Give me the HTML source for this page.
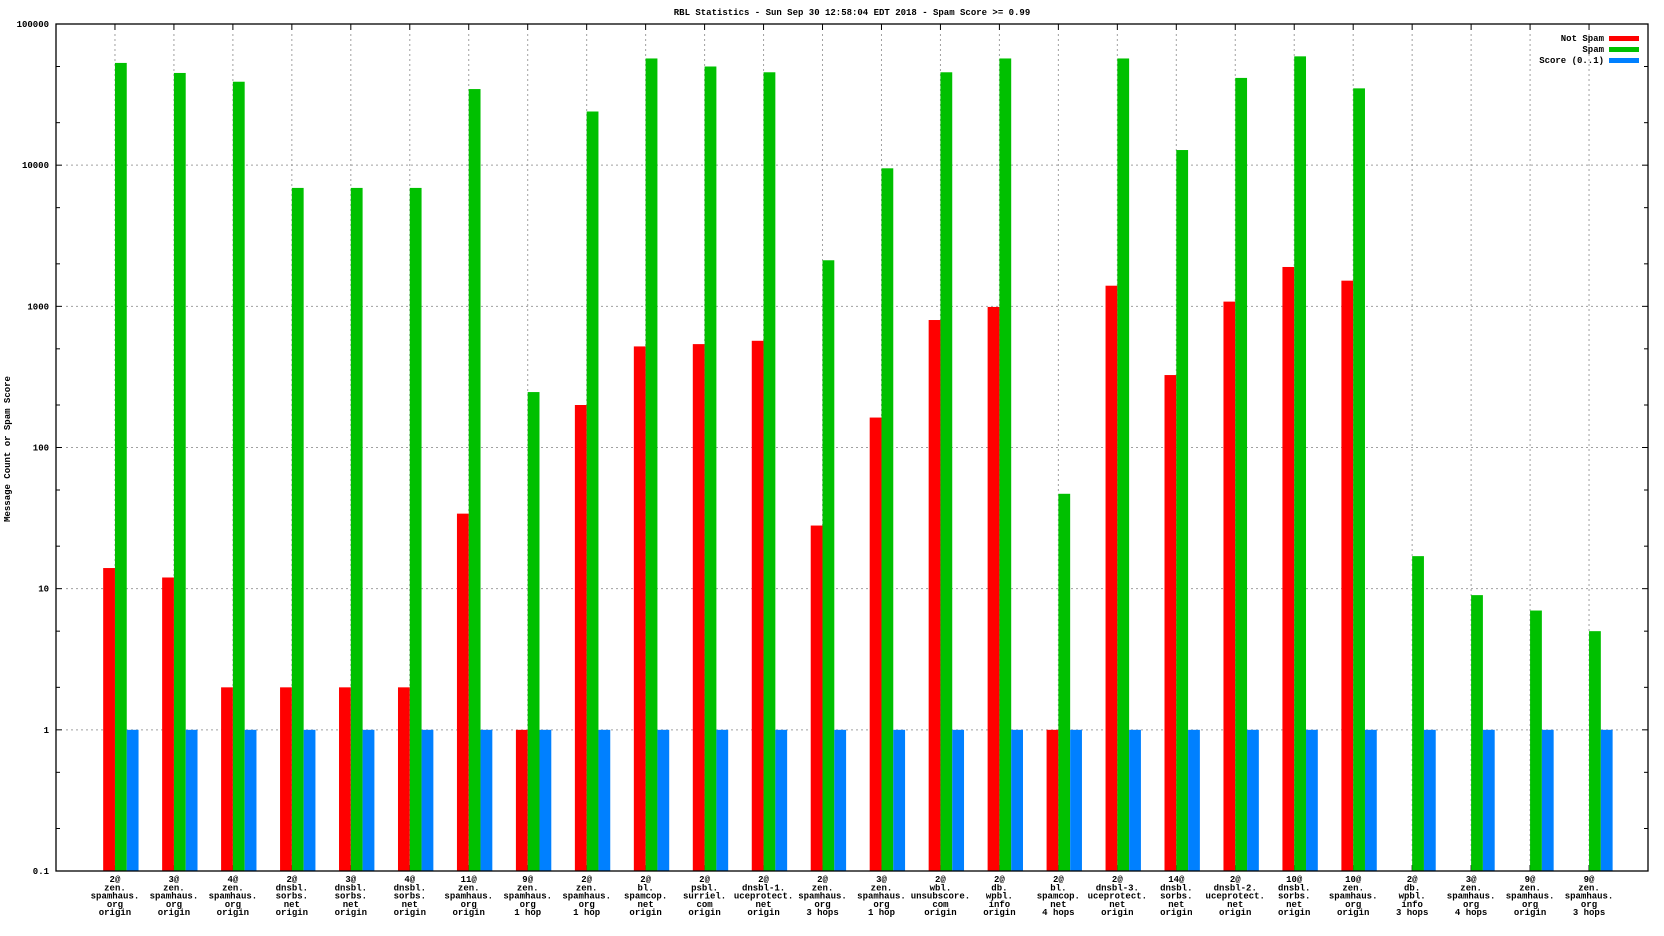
<!DOCTYPE html>
<html><head><meta charset="utf-8">
<style>
body{margin:0;background:#fff;}
svg{display:block;font-family:"Liberation Mono",monospace;font-weight:bold;}
</style></head>
<body>
<svg id="chart" width="1664" height="936" xmlns="http://www.w3.org/2000/svg"></svg>
<script>
const categories = [
 ["2@","zen.","spamhaus.","org","origin"],
 ["3@","zen.","spamhaus.","org","origin"],
 ["4@","zen.","spamhaus.","org","origin"],
 ["2@","dnsbl.","sorbs.","net","origin"],
 ["3@","dnsbl.","sorbs.","net","origin"],
 ["4@","dnsbl.","sorbs.","net","origin"],
 ["11@","zen.","spamhaus.","org","origin"],
 ["9@","zen.","spamhaus.","org","1 hop"],
 ["2@","zen.","spamhaus.","org","1 hop"],
 ["2@","bl.","spamcop.","net","origin"],
 ["2@","psbl.","surriel.","com","origin"],
 ["2@","dnsbl-1.","uceprotect.","net","origin"],
 ["2@","zen.","spamhaus.","org","3 hops"],
 ["3@","zen.","spamhaus.","org","1 hop"],
 ["2@","wbl.","unsubscore.","com","origin"],
 ["2@","db.","wpbl.","info","origin"],
 ["2@","bl.","spamcop.","net","4 hops"],
 ["2@","dnsbl-3.","uceprotect.","net","origin"],
 ["14@","dnsbl.","sorbs.","net","origin"],
 ["2@","dnsbl-2.","uceprotect.","net","origin"],
 ["10@","dnsbl.","sorbs.","net","origin"],
 ["10@","zen.","spamhaus.","org","origin"],
 ["2@","db.","wpbl.","info","3 hops"],
 ["3@","zen.","spamhaus.","org","4 hops"],
 ["9@","zen.","spamhaus.","org","origin"],
 ["9@","zen.","spamhaus.","org","3 hops"]
];
const notSpam = [14,12,2,2,2,2,34,1,200,520,540,570,28,163,800,990,1,1400,326,1080,1900,1520,0,0,0,0];
const spam = [53000,45000,39000,6900,6900,6900,34600,247,24000,57000,50000,45500,2120,9500,45500,57000,47,57000,12800,41500,59000,35000,17,9,7,5];
const score = [1,1,1,1,1,1,1,1,1,1,1,1,1,1,1,1,1,1,1,1,1,1,1,1,1,1];
const yTicks = [0.1,1,10,100,1000,10000,100000];
const yTickLabels = ["0.1","1","10","100","1000","10000","100000"];

const NS="http://www.w3.org/2000/svg";
const svg=document.getElementById('chart');
const L=56,R=1648,T=24,B=871;
const xMax=27;
function xs(v){return L+(R-L)*v/xMax;}
function ys(v){return B-(B-T)*(Math.log10(v)+1)/6;}
function mk(tag,attrs,parent){const e=document.createElementNS(NS,tag);for(const k in attrs)e.setAttribute(k,attrs[k]);(parent||svg).appendChild(e);return e;}

// title
const title=mk('text',{x:852,y:15,'text-anchor':'middle','font-size':9});


title.textContent="RBL Statistics - Sun Sep 30 12:58:04 EDT 2018 - Spam Score >= 0.99";

// y title
const yt=mk('text',{x:0,y:0,'text-anchor':'middle','font-size':9,transform:'translate(10,449) rotate(-90)'});


yt.textContent="Message Count or Spam Score";

// horizontal grid + y ticks
yTicks.forEach((v,i)=>{
  const y=ys(v);
  if(i>0&&i<yTicks.length-1){
    const g=mk('line',{x1:L+10,x2:R-10,y1:y,y2:y,stroke:'#a0a0a0','stroke-width':1,'stroke-dasharray':'2,3'});
    
    
  }
  mk('line',{x1:L,x2:L+6,y1:y,y2:y,stroke:'#000'});
  mk('line',{x1:R,x2:R-6,y1:y,y2:y,stroke:'#000'});
  const t=mk('text',{x:L-7,y:y+3,'text-anchor':'end','font-size':9});
  
  
  t.textContent=yTickLabels[i];
  if(i<yTicks.length-1){[2,5].forEach(m=>{const yy=ys(v*m);
    mk('line',{x1:L,x2:L+4,y1:yy,y2:yy,stroke:'#000'});
    mk('line',{x1:R,x2:R-4,y1:yy,y2:yy,stroke:'#000'});});}
});

// categories
categories.forEach((c,i)=>{
  const cx=xs(i+1);
  const g=mk('line',{x1:cx,x2:cx,y1:T+10,y2:B-10,stroke:'#a0a0a0','stroke-dasharray':'2,3'});
  
  
  mk('line',{x1:cx,x2:cx,y1:B,y2:B-6,stroke:'#000'});
  mk('line',{x1:cx,x2:cx,y1:T,y2:T+6,stroke:'#000'});
  const bw=(R-L)/xMax*0.2;
  const series=[[notSpam,'#ff0000',-1,'bar-not-spam'],[spam,'#00c000',0,'bar-spam'],[score,'#0080ff',1,'bar-score']];
  series.forEach(s=>{
    const v=s[0][i]; if(!(v>0.1))return;
    const y=ys(v);
    const r=mk('rect',{x:cx+s[2]*bw,y:y,width:bw,height:B-y,fill:s[1]});
    
    
  });
  const t=mk('text',{x:cx,y:B+11,'text-anchor':'middle','font-size':9});
  
  
  c.forEach((line,j)=>{const ts=mk('tspan',{x:cx,dy:j?8.3:0},t);ts.textContent=line;});
});

// axes border
const bd=mk('rect',{x:L,y:T,width:R-L,height:B-T,fill:'none',stroke:'#000','stroke-width':1.3});



// legend
const leg=[["Not Spam","#ff0000"],["Spam","#00c000"],["Score (0..1)","#0080ff"]];
leg.forEach((l,i)=>{
  const y=38+i*11;
  const t=mk('text',{x:1604,y:y+3,'text-anchor':'end','font-size':9});
  
  
  t.textContent=l[0];
  const r=mk('rect',{x:1609,y:y-2,width:30,height:5,fill:l[1]});
  
  
});
</script>
</body></html>
